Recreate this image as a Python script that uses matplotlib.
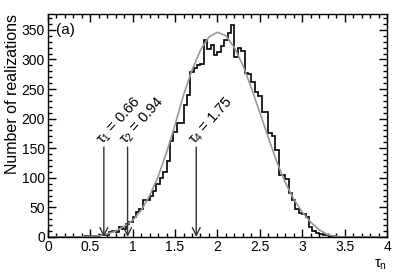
import numpy as np
import matplotlib
matplotlib.use("Agg")
import matplotlib.pyplot as plt
from matplotlib.ticker import MultipleLocator

plt.rcParams['font.family'] = ['Liberation Sans', 'DejaVu Sans']
plt.rcParams['mathtext.fontset'] = 'custom'
plt.rcParams['mathtext.rm'] = 'Liberation Sans'
plt.rcParams['mathtext.it'] = 'Liberation Sans'
plt.rcParams['mathtext.bf'] = 'Liberation Sans:bold'

# histogramme : bords des classes (largeur 0.04) et comptages
bin_edges = np.linspace(0, 4, 101)
counts = [
    0, 0, 0, 0, 0, 0, 0, 0, 0, 0,
    0, 1, 2, 2, 2, 3, 3, 4, 9, 10,
    8, 17, 14, 22, 26, 33, 43, 48, 62, 63,
    70, 77, 90, 100, 110, 128, 162, 178, 193, 193,
    223, 240, 278, 285, 290, 292, 333, 318, 325, 308,
    312, 322, 333, 345, 358, 305, 320, 315, 277, 275,
    262, 245, 238, 212, 212, 176, 170, 147, 105, 105,
    98, 75, 63, 47, 40, 38, 33, 16, 10, 6,
    5, 3, 3, 2, 1, 0, 0, 0, 0, 0,
    0, 0, 0, 0, 0, 0, 0, 0, 0, 0,
]

# ajustement (courbe grise)
fit_x = [0.0, 0.4, 0.5, 0.6, 0.7, 0.8, 0.9, 1.0, 1.1, 1.2, 1.3, 1.4, 1.5,
         1.6, 1.7, 1.8, 1.9, 2.0, 2.1, 2.2, 2.3, 2.4, 2.5, 2.6, 2.7, 2.8,
         2.9, 3.0, 3.1, 3.2, 3.3, 3.4, 3.5, 4.0]
fit_y = [0, 0, 1, 2, 5, 10, 18, 28, 45, 70, 102, 143, 190,
         240, 282, 316, 338, 346, 340, 320, 290, 252, 210, 168, 127, 92,
         64, 42, 25, 12, 4, 1, 0, 0]

# temps caractéristiques marqués par des flèches
tau_labels = [r'$\tau_{1}$ = 0.66', r'$\tau_{2}$ = 0.94', r'$\tau_{4}$ = 1.75']
tau_values = [0.66, 0.94, 1.75]

fig = plt.figure(figsize=(3.99, 2.73), dpi=100)
ax = fig.add_axes([0.120, 0.132, 0.850, 0.817])

ax.stairs(counts, bin_edges, color='black', lw=1.2)
ax.plot(fit_x, fit_y, color='#999999', lw=1.2)

for lab, t in zip(tau_labels, tau_values):
    ax.annotate('', xy=(t, 0), xytext=(t, 152),
                arrowprops=dict(arrowstyle='->', color='#333333', lw=1.0,
                                mutation_scale=14, shrinkA=0, shrinkB=0))
    ax.text(t - 0.05, 160, lab, rotation=48, rotation_mode='anchor',
            ha='left', va='center', fontsize=10.5)

ax.text(0.1, 350, '(a)', ha='left', va='center', fontsize=11)

ax.set_xlim(0, 4)
ax.set_ylim(0, 377)
ax.xaxis.set_major_locator(MultipleLocator(0.5))
ax.xaxis.set_minor_locator(MultipleLocator(0.1))
ax.yaxis.set_major_locator(MultipleLocator(50))
ax.yaxis.set_minor_locator(MultipleLocator(10))
ax.set_xticks([0, 0.5, 1, 1.5, 2, 2.5, 3, 3.5, 4])
ax.set_xticklabels(['0', '0.5', '1', '1.5', '2', '2.5', '3', '3.5', '4'])
ax.tick_params(which='both', direction='in', top=True, right=True,
               labelsize=10, width=1)
ax.tick_params(which='major', length=6, pad=2)
ax.tick_params(which='minor', length=3)
for s in ax.spines.values():
    s.set_linewidth(1)

ax.set_ylabel('Number of realizations', fontsize=11.5, loc='top', labelpad=1)
ax.set_xlabel(r'$\tau_{n}$', fontsize=10.5, loc='right', labelpad=3)

fig.savefig('out.png', dpi=100)
